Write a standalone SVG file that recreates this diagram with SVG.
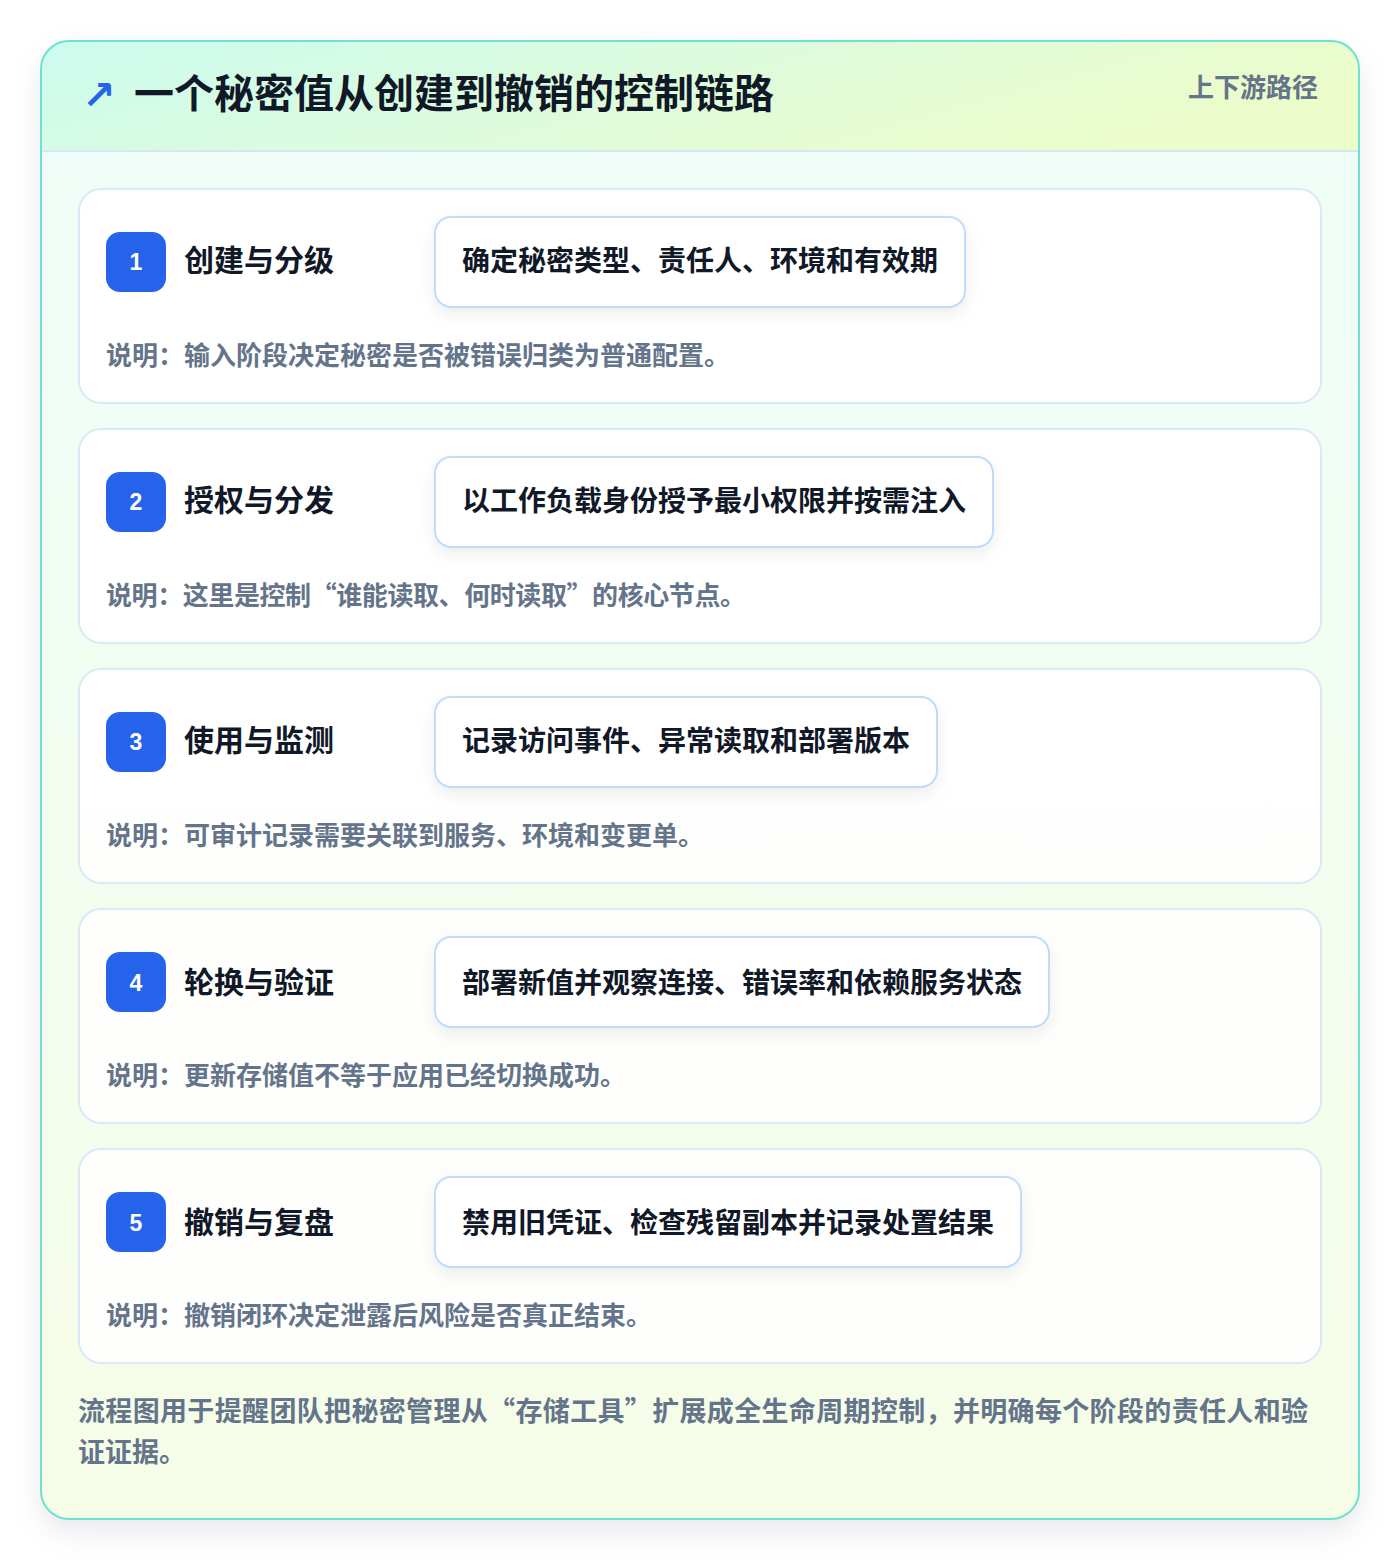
<svg xmlns="http://www.w3.org/2000/svg" width="1400" height="1560" viewBox="0 0 1400 1560">
<defs>
<linearGradient id="hdr" x1="0" y1="0" x2="1" y2="0.3">
<stop offset="0" stop-color="#ccfbef"/>
<stop offset="1" stop-color="#ecfccb"/>
</linearGradient>
<linearGradient id="body" x1="0" y1="0" x2="0" y2="1">
<stop offset="0" stop-color="#effdf9"/>
<stop offset="1" stop-color="#f6fde7"/>
</linearGradient>
<filter id="outerShadow" x="-10%" y="-10%" width="120%" height="120%">
<feDropShadow dx="0" dy="12" stdDeviation="14" flood-color="#0f172a" flood-opacity="0.09"/>
</filter>
<filter id="pillShadow" x="-10%" y="-30%" width="120%" height="170%">
<feDropShadow dx="0" dy="6" stdDeviation="8" flood-color="#0f172a" flood-opacity="0.07"/>
</filter>
<clipPath id="outerClip"><rect x="41" y="41" width="1318" height="1478" rx="28"/></clipPath>
<style>
.cjk{font-family:"Noto Sans CJK SC","Noto Sans",sans-serif;font-weight:700}
.title{font-size:40px;fill:#111827}
.tag{font-size:26px;fill:#64748b}
.card{fill:#ffffff;fill-opacity:0.88;stroke:#dbe8f8;stroke-width:2}
.badge{fill:#2563eb}
.num{font-family:"Liberation Sans",Arial,sans-serif;font-weight:700;font-size:23px;fill:#ffffff;text-anchor:middle}
.step{font-size:30px;fill:#111827}
.pill{fill:#ffffff;stroke:#bfdbfe;stroke-width:2}
.pilltext{font-size:28px;fill:#111827}
.note{font-size:26px;fill:#64748b}
.foot{font-size:27px;fill:#64748b}
</style>
</defs>
<rect width="1400" height="1560" fill="#ffffff"/>
<g id="frame">
<rect x="41" y="41" width="1318" height="1478" rx="28" fill="url(#body)" filter="url(#outerShadow)"/>
<g clip-path="url(#outerClip)">
<rect x="41" y="41" width="1318" height="110" fill="url(#hdr)"/>
<line x1="41" y1="151" x2="1359" y2="151" stroke="#d6e6f5" stroke-width="2"/>
</g>
<rect x="41" y="41" width="1318" height="1478" rx="28" fill="none" stroke="#6ee2d0" stroke-width="2"/>
</g>
<g id="header">
<text x="82" y="109" font-family="'DejaVu Sans',sans-serif" font-weight="700" font-size="40" fill="#2563eb">↗</text>
<text class="cjk title" x="134" y="108">一个秘密值从创建到撤销的控制链路</text>
<text class="cjk tag" x="1318" y="97" text-anchor="end">上下游路径</text>
</g>
<g id="connectors"></g>
<g id="step1">
<rect class="card" x="79" y="189" width="1242" height="214" rx="22"/>
<rect class="badge" x="106" y="232" width="60" height="60" rx="14"/>
<text class="num" x="136" y="270">1</text>
<text class="cjk step" x="184" y="271">创建与分级</text>
<rect class="pill" x="435" y="217" width="530" height="90" rx="16" filter="url(#pillShadow)"/>
<text class="cjk pilltext" x="462" y="271">确定秘密类型、责任人、环境和有效期</text>
<text class="cjk note" x="106" y="365">说明：输入阶段决定秘密是否被错误归类为普通配置。</text>
</g>
<g id="step2">
<rect class="card" x="79" y="429" width="1242" height="214" rx="22"/>
<rect class="badge" x="106" y="472" width="60" height="60" rx="14"/>
<text class="num" x="136" y="510">2</text>
<text class="cjk step" x="184" y="511">授权与分发</text>
<rect class="pill" x="435" y="457" width="558" height="90" rx="16" filter="url(#pillShadow)"/>
<text class="cjk pilltext" x="462" y="511">以工作负载身份授予最小权限并按需注入</text>
<text class="cjk note" x="106" y="605" textLength="640" lengthAdjust="spacing">说明：这里是控制“谁能读取、何时读取”的核心节点。</text>
</g>
<g id="step3">
<rect class="card" x="79" y="669" width="1242" height="214" rx="22"/>
<rect class="badge" x="106" y="712" width="60" height="60" rx="14"/>
<text class="num" x="136" y="750">3</text>
<text class="cjk step" x="184" y="751">使用与监测</text>
<rect class="pill" x="435" y="697" width="502" height="90" rx="16" filter="url(#pillShadow)"/>
<text class="cjk pilltext" x="462" y="751">记录访问事件、异常读取和部署版本</text>
<text class="cjk note" x="106" y="845">说明：可审计记录需要关联到服务、环境和变更单。</text>
</g>
<g id="step4">
<rect class="card" x="79" y="909" width="1242" height="214" rx="22"/>
<rect class="badge" x="106" y="952" width="60" height="60" rx="14"/>
<text class="num" x="136" y="991">4</text>
<text class="cjk step" x="184" y="993">轮换与验证</text>
<rect class="pill" x="435" y="937" width="614" height="90" rx="16" filter="url(#pillShadow)"/>
<text class="cjk pilltext" x="462" y="993">部署新值并观察连接、错误率和依赖服务状态</text>
<text class="cjk note" x="106" y="1085">说明：更新存储值不等于应用已经切换成功。</text>
</g>
<g id="step5">
<rect class="card" x="79" y="1149" width="1242" height="214" rx="22"/>
<rect class="badge" x="106" y="1192" width="60" height="60" rx="14"/>
<text class="num" x="136" y="1231">5</text>
<text class="cjk step" x="184" y="1233">撤销与复盘</text>
<rect class="pill" x="435" y="1177" width="586" height="90" rx="16" filter="url(#pillShadow)"/>
<text class="cjk pilltext" x="462" y="1233">禁用旧凭证、检查残留副本并记录处置结果</text>
<text class="cjk note" x="106" y="1325">说明：撤销闭环决定泄露后风险是否真正结束。</text>
</g>
<g id="footer">
<text class="cjk foot" x="78" y="1421" textLength="1230" lengthAdjust="spacing">流程图用于提醒团队把秘密管理从“存储工具”扩展成全生命周期控制，并明确每个阶段的责任人和验</text>
<text class="cjk foot" x="78" y="1462">证证据。</text>
</g>
</svg>
